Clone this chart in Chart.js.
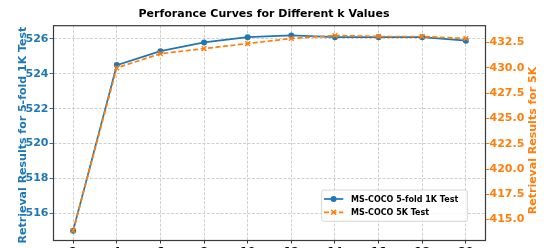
<!DOCTYPE html>
<html>
<head>
<meta charset="utf-8">
<script src="https://cdn.jsdelivr.net/npm/chart.js@4.4.1/dist/chart.umd.min.js"></script>
<style>
  html, body { margin: 0; padding: 0; background: #fff; overflow: hidden; }
  #c { display: block; }
</style>
</head>
<body>
<canvas id="c" width="550" height="275"></canvas>
<script>
// values
const kValues = [2, 4, 6, 8, 10, 12, 14, 16, 18, 20];
const coco1kSum = [515.0, 524.5, 525.3, 525.8, 526.1, 526.2, 526.1, 526.1, 526.1, 525.9];
const coco5kSum = [413.9, 430.0, 431.4, 431.9, 432.4, 432.9, 433.2, 433.1, 433.1, 432.9];
const xTicks = [2, 4, 6, 8, 10, 12, 14, 16, 18, 20];
const leftTicks = [516, 518, 520, 522, 524, 526];
const rightTicks = [415, 417.5, 420, 422.5, 425, 427.5, 430, 432.5];

const titleText = 'Perforance Curves for Different k Values';
const leftTitle = 'Retrieval Results for 5-fold 1K Test';
const rightTitle = 'Retrieval Results for 5K';
const label1k = 'MS-COCO 5-fold 1K Test';
const label5k = 'MS-COCO 5K Test';

const BLUE = '#1f77b4';
const ORANGE = '#ff7f0e';
const FONT = '"DejaVu Sans", sans-serif';

// matplotlib-like 5% margins around the data
function padRange(vals) {
  const lo = Math.min(...vals), hi = Math.max(...vals);
  const p = (hi - lo) * 0.05;
  return { min: lo - p, max: hi + p };
}
const xr = padRange(kValues);
const lr = padRange(coco1kSum);
const rr = padRange(coco5kSum);

const fixTicks = list => scale => { scale.ticks = list.map(v => ({ value: v })); };

// frame, titles and legend drawn on top of the library's scales
const decor = {
  id: 'decor',
  afterDatasetsDraw(chart) {
    const { ctx, chartArea: a } = chart;
    ctx.save();
    ctx.strokeStyle = '#3a3a3a';
    ctx.lineWidth = 1.2;
    ctx.strokeRect(a.left, a.top, a.right - a.left, a.bottom - a.top);
    ctx.restore();
  },
  afterDraw(chart) {
    const ctx = chart.ctx;
    ctx.save();
    ctx.font = 'bold 11px ' + FONT;
    ctx.fillStyle = '#000';
    ctx.textAlign = 'center';
    ctx.textBaseline = 'alphabetic';
    ctx.fillText(titleText, 264, 17.3);

    // axis titles, reading bottom to top
    ctx.textAlign = 'right';
    ctx.fillStyle = BLUE;
    ctx.save();
    ctx.translate(26, 26.7);
    ctx.rotate(-Math.PI / 2);
    ctx.fillText(leftTitle, 0, 0);
    ctx.restore();
    ctx.fillStyle = ORANGE;
    ctx.save();
    ctx.translate(535.5, 66.7);
    ctx.rotate(-Math.PI / 2);
    ctx.fillText(rightTitle, 0, 0);
    ctx.restore();

    // legend box
    const bx = 321.7, by = 190, bw = 145.6, bh = 31.3;
    ctx.fillStyle = 'rgba(255,255,255,0.85)';
    ctx.strokeStyle = '#cccccc';
    ctx.lineWidth = 0.8;
    ctx.beginPath();
    ctx.roundRect(bx, by, bw, bh, 2);
    ctx.fill();
    ctx.stroke();

    const rows = [199, 212.3];
    chart.data.datasets.forEach((ds, i) => {
      const y = rows[i];
      ctx.strokeStyle = ds.borderColor;
      ctx.lineWidth = ds.borderWidth;
      ctx.setLineDash(ds.borderDash || []);
      ctx.beginPath();
      ctx.moveTo(324, y);
      ctx.lineTo(343.3, y);
      ctx.stroke();
      ctx.setLineDash([]);
      const mx = 333.6;
      if (ds.pointStyle === 'circle') {
        ctx.fillStyle = ds.borderColor;
        ctx.beginPath();
        ctx.arc(mx, y, ds.pointRadius, 0, Math.PI * 2);
        ctx.fill();
      } else {
        const r = ds.pointRadius * 0.75;
        ctx.lineWidth = ds.pointBorderWidth;
        ctx.beginPath();
        ctx.moveTo(mx - r, y - r); ctx.lineTo(mx + r, y + r);
        ctx.moveTo(mx - r, y + r); ctx.lineTo(mx + r, y - r);
        ctx.stroke();
      }
      ctx.fillStyle = '#000';
      ctx.font = 'bold 8px ' + FONT;
      ctx.textAlign = 'left';
      ctx.textBaseline = 'middle';
      ctx.fillText(ds.label, 351, y + 0.5);
    });
    ctx.restore();
  }
};

new Chart(document.getElementById('c'), {
  type: 'line',
  data: {
    datasets: [
      {
        label: label1k,
        data: kValues.map((k, i) => ({ x: k, y: coco1kSum[i] })),
        yAxisID: 'y',
        borderColor: BLUE,
        backgroundColor: BLUE,
        borderWidth: 1.7,
        pointStyle: 'circle',
        pointRadius: 3,
        pointBorderWidth: 0,
        order: 1
      },
      {
        label: label5k,
        data: kValues.map((k, i) => ({ x: k, y: coco5kSum[i] })),
        yAxisID: 'y1',
        borderColor: ORANGE,
        backgroundColor: ORANGE,
        borderWidth: 1.7,
        borderDash: [5, 2.5],
        pointStyle: 'crossRot',
        pointRadius: 3.3,
        pointBorderWidth: 1.4,
        order: 0
      }
    ]
  },
  options: {
    responsive: false,
    animation: false,
    devicePixelRatio: 1,
    layout: { padding: { top: 25.7, left: 0, right: 0, bottom: 0 } },
    plugins: { legend: { display: false }, tooltip: { enabled: false }, title: { display: false } },
    scales: {
      x: {
        type: 'linear',
        min: xr.min, max: xr.max,
        afterBuildTicks: fixTicks(xTicks),
        afterFit: s => { s.height = 34.5; },
        grid: { color: '#c4c4c4', lineWidth: 0.8, tickLength: 3, tickColor: '#333', tickWidth: 1 },
        border: { display: false, dash: [3, 1.5] },
        ticks: { color: '#000', font: { family: FONT, size: 11, weight: 'bold' }, padding: 2, maxRotation: 0 }
      },
      y: {
        position: 'left',
        min: lr.min, max: lr.max,
        afterBuildTicks: fixTicks(leftTicks),
        afterFit: s => { s.width = 53.5; },
        grid: { color: '#c4c4c4', lineWidth: 0.8, tickLength: 4, tickColor: BLUE, tickWidth: 1 },
        border: { display: false, dash: [3, 1.5] },
        ticks: { color: BLUE, font: { family: FONT, size: 11, weight: 'bold' }, padding: 1 }
      },
      y1: {
        position: 'right',
        min: rr.min, max: rr.max,
        afterBuildTicks: fixTicks(rightTicks),
        afterFit: s => { s.width = 64.5; },
        grid: { drawOnChartArea: false, tickLength: 4, tickColor: ORANGE, tickWidth: 1 },
        border: { display: false },
        ticks: {
          color: ORANGE, font: { family: FONT, size: 11, weight: 'bold' }, padding: 0,
          callback: v => v.toFixed(1)
        }
      }
    }
  },
  plugins: [decor]
});
</script>
</body>
</html>
